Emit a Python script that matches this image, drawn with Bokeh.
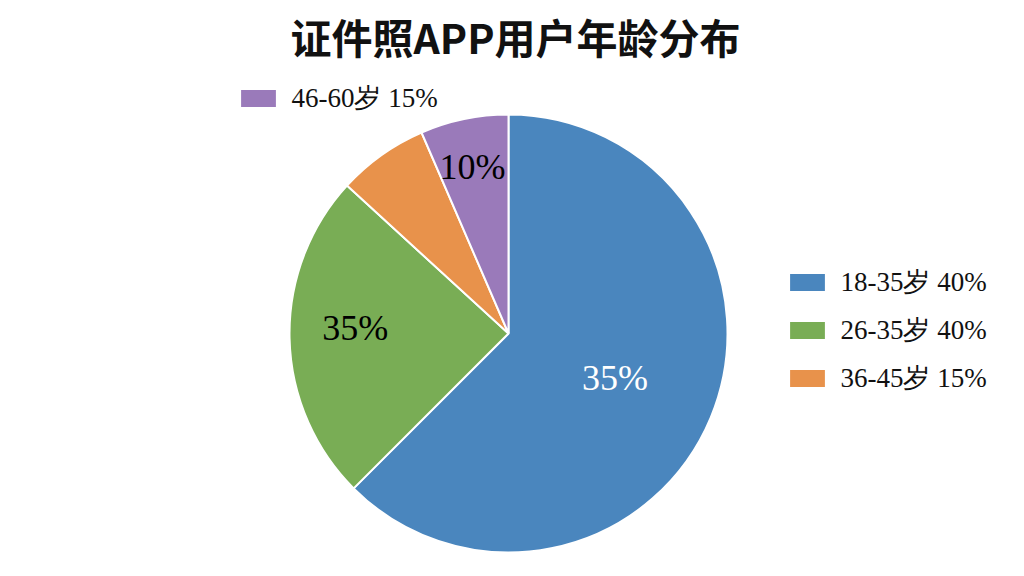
import numpy as np
from bokeh.plotting import figure
from bokeh.models import ColumnDataSource, Legend, LegendItem
from bokeh.embed import file_html
from bokeh.resources import INLINE
from bokeh.core.properties import value

# ---- data ----
title_text = "证件照APP用户年龄分布"
categories = ["18-35岁", "26-35岁", "36-45岁", "46-60岁"]
shares = [62.5, 24.3, 6.7, 6.5]            # slice sizes
slice_labels = ["35%", "35%", "", "10%"]   # labels printed on slices
legend_pcts = ["40%", "40%", "15%", "15%"] # labels printed in legends
colors = ["#4a86be", "#79ad55", "#e8924b", "#9a7aba"]

# ---- layout constants ----
FW, FH = 1008, 500
TOP = 66                    # page y of the frame top (measured)
CX, CY, R = 508, FH - (331 - TOP), 219
label_r = [0.526, 0.70, 0.0, 0.78]
label_dang = [0.0, -3.5, 0.0, 0.5]   # degrees

frac = np.array(shares) / np.sum(shares)
cum = np.concatenate([[0], np.cumsum(frac)])
start = np.pi / 2 - 2 * np.pi * cum[:-1]
end = np.pi / 2 - 2 * np.pi * cum[1:]
mid = (start + end) / 2 + np.radians(label_dang)

src = ColumnDataSource(dict(
    cat=categories, start=start, end=end, color=colors,
    x=[CX] * len(categories), y=[CY] * len(categories),
))

p = figure(frame_width=FW, frame_height=FH, x_range=(0, FW), y_range=(0, FH),
           output_backend="svg", toolbar_location=None, min_border=0,
           title=title_text)
p.title.align = "left"
p.title.offset = 290
p.title.standoff = 6
p.title.text_font = "Noto Sans CJK SC"
p.title.text_font_size = "41px"
p.title.text_font_style = "bold"
p.title.text_color = "#111111"
p.axis.visible = False
p.grid.visible = False
p.outline_line_color = None
p.background_fill_color = "white"
p.border_fill_color = "white"

r = p.wedge(x="x", y="y", radius=R, start_angle="start", end_angle="end",
            direction="clock", fill_color="color", line_color="white",
            line_width=2, source=src)

lx = [CX + R * lr * np.cos(a) for lr, a in zip(label_r, mid)]
ly = [CY + R * lr * np.sin(a) for lr, a in zip(label_r, mid)]
tcol = ["white", "black", "black", "black"]
p.text(x=lx, y=ly, text=slice_labels, text_color=tcol,
       text_font=value("Liberation Serif"), text_font_size="36px",
       text_align="center", text_baseline="middle")

# legends: one per entry; page coords of glyph left edge and glyph centre y
FS = 27
H_EST = 1.27 * FS
GW, GH = 46, 24
leg_pos = {3: (240, 97), 0: (789, 281), 1: (789, 328.5), 2: (789, 377)}
for i, (gx, gcy) in leg_pos.items():
    item = LegendItem(label=f"{categories[i]} {legend_pcts[i]}", renderers=[r], index=i)
    fx = gx - 0.1 * GW
    bottom_page = gcy + H_EST / 2
    fy_bottom = FH - (bottom_page - TOP)
    leg = Legend(items=[item], location=(fx, fy_bottom), padding=0, margin=0,
                 glyph_width=GW, glyph_height=GH, label_standoff=10,
                 label_text_font="Liberation Serif", label_text_font_size=f"{FS}px",
                 label_text_color="#111111", border_line_alpha=0,
                 background_fill_alpha=0, label_height=GH)
    p.add_layout(leg, "center")

open("out.html", "w").write(file_html(p, INLINE))
